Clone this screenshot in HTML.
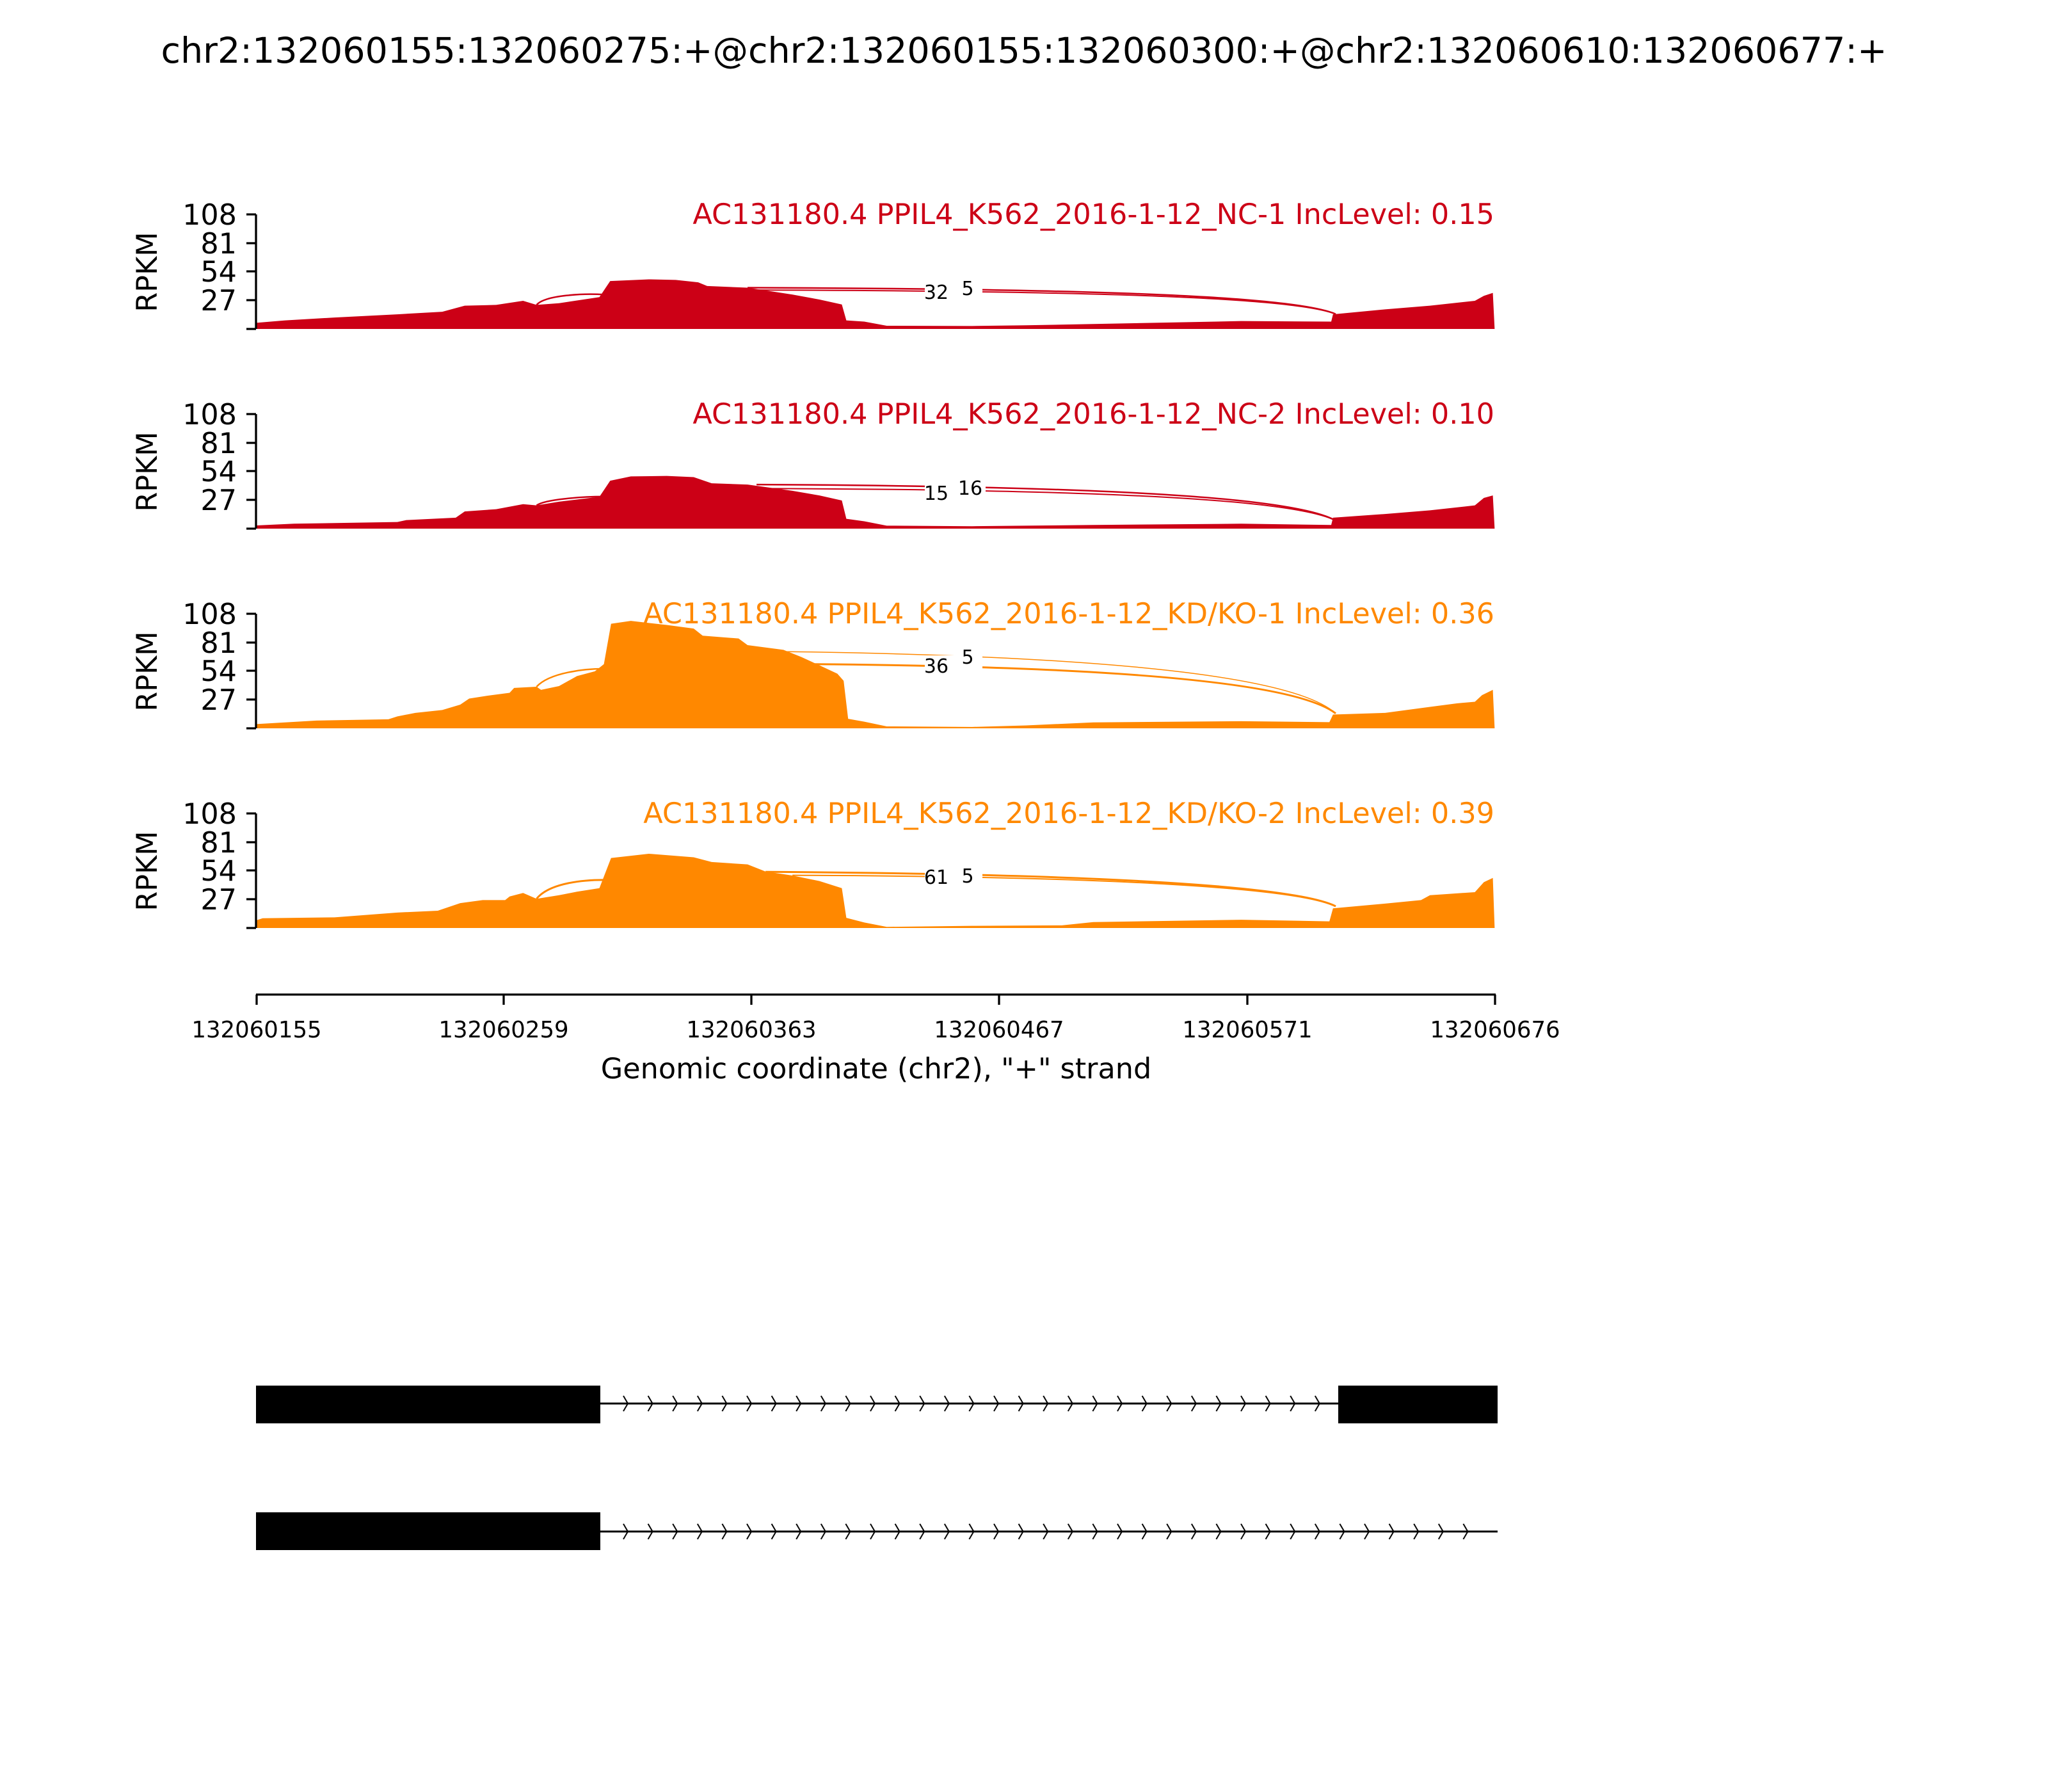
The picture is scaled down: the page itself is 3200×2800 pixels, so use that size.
<!DOCTYPE html>
<html><head><meta charset="utf-8"><style>
html,body{margin:0;padding:0;background:#fff;}
svg{display:block;font-family:"DejaVu Sans","Liberation Sans",sans-serif;}
</style></head><body>
<svg width="3200" height="2800" viewBox="0 0 3200 2800" xmlns="http://www.w3.org/2000/svg">
<defs>
<pattern id="chev" patternUnits="userSpaceOnUse" x="972" y="0" width="38.6" height="2800">
<path d="M2,2181 L9,2193 L2,2205" fill="none" stroke="#000" stroke-width="2"/>
<path d="M2,2381 L9,2393 L2,2405" fill="none" stroke="#000" stroke-width="2"/>
</pattern>
</defs>
<rect width="3200" height="2800" fill="#fff"/>
<text x="1600" y="98" font-size="55.5" text-anchor="middle">chr2:132060155:132060275:+@chr2:132060155:132060300:+@chr2:132060610:132060677:+</text>

<!-- Panel 1 -->
<g transform="translate(200,514) scale(1.403,-179)">
<polygon fill="#CC0016" points="143,0 143,.054 175,.075 230,.10 300,.128 350,.15 375,.203 410,.21 440,.246 455,.21 480,.225 525,.278 537,.418 580,.433 610,.428 635,.407 645,.375 690,.36 740,.30 770,.257 795,.214 800,.075 820,.064 845,.028 940,.026 1000,.032 1075,.043 1240,.069 1340,.064 1342,.128 1400,.171 1450,.203 1500,.246 1510,.289 1520,.315 1522,0"/>
<path d="M455,.21 C465,.30 510,.31 530,.30" fill="none" stroke="#CC0016" stroke-width="2.5" vector-effect="non-scaling-stroke"/>
<path d="M690,.36 C1100,.35 1300,.28 1345,.13" fill="none" stroke="#CC0016" stroke-width="2.5" vector-effect="non-scaling-stroke"/>
<path d="M700,.34 C1100,.33 1300,.27 1345,.13" fill="none" stroke="#CC0016" stroke-width="2" vector-effect="non-scaling-stroke"/>
</g>
<rect x="1445" y="440" width="90" height="30" fill="#fff"/>
<text x="1463" y="467" font-size="30" text-anchor="middle">32</text>
<rect x="1495" y="434" width="34" height="30" fill="#fff"/>
<text x="1512" y="461" font-size="30" text-anchor="middle">5</text>
<text x="2335" y="350" font-size="44.5" text-anchor="end" fill="#CC0016">AC131180.4 PPIL4_K562_2016-1-12_NC-1 IncLevel: 0.15</text>

<!-- Panel 2 -->
<g transform="translate(200,826) scale(1.403,-179)">
<polygon fill="#CC0016" points="143,0 143,.028 185,.043 300,.058 310,.075 365,.096 375,.15 410,.17 440,.214 455,.203 480,.235 525,.278 537,.418 560,.456 600,.46 630,.45 650,.396 690,.385 740,.33 770,.29 795,.246 800,.086 820,.064 845,.026 940,.021 1075,.032 1240,.043 1340,.032 1342,.096 1400,.128 1450,.16 1500,.203 1510,.268 1520,.29 1522,0"/>
<path d="M455,.203 C465,.26 510,.28 530,.28" fill="none" stroke="#CC0016" stroke-width="2.5" vector-effect="non-scaling-stroke"/>
<path d="M700,.385 C1100,.37 1300,.27 1345,.07" fill="none" stroke="#CC0016" stroke-width="2.5" vector-effect="non-scaling-stroke"/>
<path d="M710,.35 C1100,.34 1300,.25 1345,.07" fill="none" stroke="#CC0016" stroke-width="2" vector-effect="non-scaling-stroke"/>
</g>
<rect x="1445" y="752" width="90" height="30" fill="#fff"/>
<text x="1463" y="781" font-size="30" text-anchor="middle">15</text>
<rect x="1490" y="748" width="50" height="26" fill="#fff"/>
<text x="1516" y="773" font-size="30" text-anchor="middle">16</text>
<text x="2335" y="662" font-size="44.5" text-anchor="end" fill="#CC0016">AC131180.4 PPIL4_K562_2016-1-12_NC-2 IncLevel: 0.10</text>

<!-- Panel 3 -->
<g transform="translate(200,1138) scale(1.403,-179)">
<polygon fill="#FF8800" points="143,0 143,.037 210,.068 290,.079 300,.104 320,.135 350,.16 370,.207 380,.26 400,.284 425,.31 430,.353 455,.363 460,.336 480,.369 500,.456 520,.498 530,.56 538,.913 560,.938 600,.902 630,.871 640,.809 680,.784 690,.726 730,.685 750,.622 770,.55 790,.477 797,.415 802,.083 820,.058 845,.017 940,.012 1000,.025 1075,.052 1240,.062 1338,.054 1342,.12 1400,.135 1450,.187 1480,.218 1500,.232 1508,.29 1520,.336 1522,0"/>
<path d="M455,.363 C470,.49 510,.52 530,.52" fill="none" stroke="#FF8800" stroke-width="2.5" vector-effect="non-scaling-stroke"/>
<path d="M730,.67 C1100,.63 1300,.45 1345,.13" fill="none" stroke="#FF8800" stroke-width="1.5" vector-effect="non-scaling-stroke"/>
<path d="M760,.56 C1100,.54 1300,.40 1345,.13" fill="none" stroke="#FF8800" stroke-width="3" vector-effect="non-scaling-stroke"/>
</g>
<rect x="1445" y="1024" width="90" height="32" fill="#fff"/>
<text x="1463" y="1051" font-size="30" text-anchor="middle">36</text>
<text x="1512" y="1037" font-size="30" text-anchor="middle">5</text>
<text x="2335" y="974" font-size="44.5" text-anchor="end" fill="#FF8800">AC131180.4 PPIL4_K562_2016-1-12_KD/KO-1 IncLevel: 0.36</text>

<!-- Panel 4 -->
<g transform="translate(200,1450) scale(1.403,-179)">
<polygon fill="#FF8800" points="143,0 143,.068 150,.085 230,.093 300,.135 345,.151 370,.217 395,.244 420,.244 425,.275 440,.306 455,.255 480,.286 500,.317 525,.348 538,.611 580,.648 630,.617 650,.576 690,.555 710,.493 740,.458 770,.41 795,.348 800,.089 820,.048 845,.01 940,.019 1040,.023 1075,.052 1240,.072 1338,.058 1342,.172 1400,.213 1440,.244 1450,.286 1500,.313 1510,.4 1520,.437 1522,0"/>
<path d="M455,.255 C470,.40 510,.42 530,.42" fill="none" stroke="#FF8800" stroke-width="3" vector-effect="non-scaling-stroke"/>
<path d="M710,.49 C1100,.47 1300,.36 1345,.19" fill="none" stroke="#FF8800" stroke-width="3" vector-effect="non-scaling-stroke"/>
<path d="M740,.46 C1100,.45 1300,.35 1345,.19" fill="none" stroke="#FF8800" stroke-width="2" vector-effect="non-scaling-stroke"/>
</g>
<rect x="1445" y="1356" width="90" height="30" fill="#fff"/>
<text x="1463" y="1381" font-size="30" text-anchor="middle">61</text>
<text x="1512" y="1379" font-size="30" text-anchor="middle">5</text>
<text x="2335" y="1286" font-size="44.5" text-anchor="end" fill="#FF8800">AC131180.4 PPIL4_K562_2016-1-12_KD/KO-2 IncLevel: 0.39</text>

<!-- Y axes -->
<g stroke="#000" stroke-width="3.3" fill="none">
<path d="M400,335 V514 M385,335 H400 M385,380 H400 M385,424 H400 M385,469 H400 M385,514 H400"/>
<path d="M400,647 V826 M385,647 H400 M385,692 H400 M385,736 H400 M385,781 H400 M385,826 H400"/>
<path d="M400,959 V1138 M385,959 H400 M385,1004 H400 M385,1048 H400 M385,1093 H400 M385,1138 H400"/>
<path d="M400,1271 V1450 M385,1271 H400 M385,1316 H400 M385,1360 H400 M385,1405 H400 M385,1450 H400"/>
</g>
<g font-size="44.5" text-anchor="end">
<text x="370" y="351">108</text><text x="370" y="396">81</text><text x="370" y="440">54</text><text x="370" y="485">27</text>
<text x="370" y="663">108</text><text x="370" y="708">81</text><text x="370" y="752">54</text><text x="370" y="797">27</text>
<text x="370" y="975">108</text><text x="370" y="1020">81</text><text x="370" y="1064">54</text><text x="370" y="1109">27</text>
<text x="370" y="1287">108</text><text x="370" y="1332">81</text><text x="370" y="1376">54</text><text x="370" y="1421">27</text>
</g>
<g font-size="44.5" text-anchor="middle">
<text transform="translate(245,425) rotate(-90)">RPKM</text>
<text transform="translate(245,737) rotate(-90)">RPKM</text>
<text transform="translate(245,1049) rotate(-90)">RPKM</text>
<text transform="translate(245,1361) rotate(-90)">RPKM</text>
</g>

<!-- X axis -->
<path d="M400,1554 H2337 M401,1554 V1570 M787,1554 V1570 M1174,1554 V1570 M1561,1554 V1570 M1949,1554 V1570 M2336,1554 V1570" stroke="#000" stroke-width="3.3" fill="none"/>
<g font-size="35.5" text-anchor="middle">
<text x="401" y="1621">132060155</text><text x="787" y="1621">132060259</text><text x="1174" y="1621">132060363</text>
<text x="1561" y="1621">132060467</text><text x="1949" y="1621">132060571</text><text x="2336" y="1621">132060676</text>
</g>
<text x="1369" y="1685" font-size="44.5" text-anchor="middle">Genomic coordinate (chr2), "+" strand</text>

<!-- Gene models -->
<rect x="400" y="2165" width="538" height="59" fill="#000"/>
<rect x="2091" y="2165" width="249" height="59" fill="#000"/>
<path d="M938,2193 H2091" stroke="#000" stroke-width="3"/>
<rect x="972" y="2175" width="1105" height="40" fill="url(#chev)"/>
<rect x="400" y="2363" width="538" height="59" fill="#000"/>
<path d="M938,2393 H2340" stroke="#000" stroke-width="3"/>
<rect x="972" y="2375" width="1335" height="40" fill="url(#chev)"/>
</svg>
</body></html>
